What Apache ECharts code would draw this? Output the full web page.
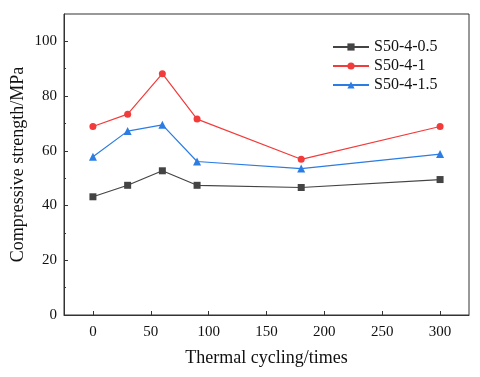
<!DOCTYPE html>
<html>
<head>
<meta charset="utf-8">
<script src="https://cdn.jsdelivr.net/npm/echarts@6/dist/echarts.min.js"></script>
<style>
  html, body { margin: 0; padding: 0; background: #fff; }
  #main { width: 480px; height: 377px; }
</style>
</head>
<body>
<div id="main"></div>
<script>
// 热循环次数
const cycles = [0, 30, 60, 90, 180, 300];
const seriesNames = ["S50-4-0.5", "S50-4-1", "S50-4-1.5"];
const s05 = [43.2, 47.4, 52.7, 47.4, 46.6, 49.5];
const s1 = [68.9, 73.4, 88.2, 71.6, 56.9, 68.9];
const s15 = [57.8, 67.2, 69.5, 56.1, 53.5, 58.8];
const xTicks = [0, 50, 100, 150, 200, 250, 300];
const yTicks = [0, 20, 40, 60, 80, 100];

const font = "Liberation Serif";
const colors = ["#444444", "#f23b3b", "#2b7ce3"];
const symbols = ["rect", "circle", "triangle"];
const values = [s05, s1, s15];

const myChart = echarts.init(document.getElementById("main"));

myChart.setOption({
  animation: false,
  grid: {
    left: 64, right: 11, top: 14, bottom: 62,
    outerBoundsMode: "none",
    containLabel: false,
    show: true, borderColor: "#333", borderWidth: 1
  },
  legend: {
    orient: "vertical",
    left: 327, top: 34,
    itemWidth: 36, itemHeight: 9, itemGap: 3,
    textStyle: { fontFamily: font, fontSize: 16, color: "#111" },
    data: seriesNames
  },
  xAxis: {
    type: "value",
    min: -25, max: 325,
    interval: 50,
    name: "Thermal cycling/times",
    nameLocation: "middle",
    nameGap: 34,
    nameMoveOverlap: false,
    nameTextStyle: { fontFamily: font, fontSize: 18, color: "#111" },
    axisLine: { onZero: false, lineStyle: { color: "#333" } },
    axisTick: { inside: true, length: 4, lineStyle: { color: "#333" },
      customValues: xTicks },
    minorTick: { show: true, splitNumber: 2, length: 2, lineStyle: { color: "#333" } },
    axisLabel: { fontFamily: font, fontSize: 15, color: "#111",
      customValues: xTicks, margin: 10 },
    splitLine: { show: false }
  },
  yAxis: {
    type: "value",
    min: 0, max: 110,
    interval: 20,
    name: "Compressive strength/MPa",
    nameLocation: "middle",
    nameGap: 37,
    nameMoveOverlap: false,
    nameTextStyle: { fontFamily: font, fontSize: 18, color: "#111" },
    axisLine: { show: true, onZero: false, lineStyle: { color: "#333" } },
    axisTick: { inside: true, length: 4, lineStyle: { color: "#333" },
      customValues: yTicks },
    minorTick: { show: true, splitNumber: 2, length: 2, lineStyle: { color: "#333" } },
    axisLabel: { fontFamily: font, fontSize: 15, color: "#111",
      customValues: yTicks, margin: 7 },
    splitLine: { show: false }
  },
  series: seriesNames.map((name, i) => ({
    name: name,
    type: "line",
    data: cycles.map((c, j) => [c, values[i][j]]),
    symbol: symbols[i],
    symbolSize: i === 2 ? 8 : 7,
    itemStyle: { color: colors[i] },
    lineStyle: { color: colors[i], width: 1.2 }
  }))
});
</script>
</body>
</html>
